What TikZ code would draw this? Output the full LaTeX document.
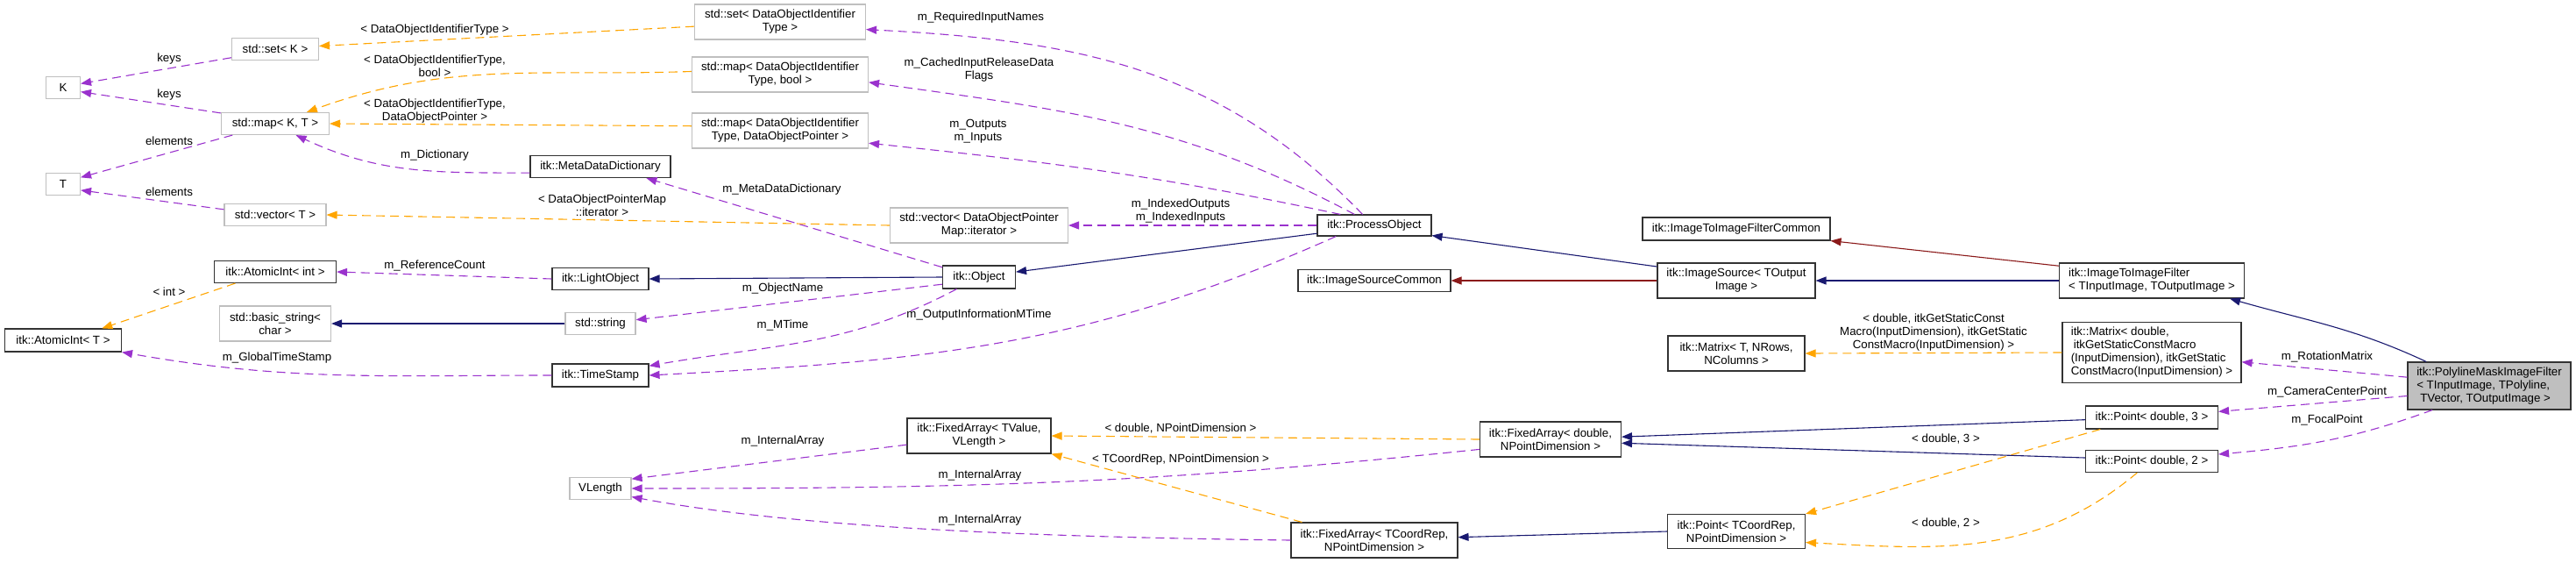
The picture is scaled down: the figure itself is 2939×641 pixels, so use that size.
\documentclass[tikz,border=0pt]{standalone}
\usepackage{fontspec}
\setmainfont{Liberation Sans}
\usepackage{xcolor}
\usetikzlibrary{arrows.meta}

\definecolor{memberc}{HTML}{9A32CD}
\definecolor{tmplc}{HTML}{FFA500}
\definecolor{inhc}{HTML}{191970}
\definecolor{protc}{HTML}{8B1A1A}
\definecolor{extc}{HTML}{BFBFBF}

\begin{document}
\begin{tikzpicture}[x=1pt, y=-1pt,
    font=\fontsize{13.3}{15}\selectfont,
    cls/.style={draw=black!80, line width=1.1pt, fill=white, align=center, inner sep=2pt},
    ext/.style={cls, draw=extc},
    focus/.style={cls, fill=extc},
    tip/.style={-{Triangle[length=12pt,width=9pt]}},
    member/.style={tip, memberc, line width=1.1pt, dash pattern=on 10pt off 6pt},
    tmpl/.style={tip, tmplc, line width=1.1pt, dash pattern=on 10pt off 6pt},
    inherit/.style={tip, inhc, line width=1.1pt},
    prot/.style={tip, protc, line width=1.1pt},
    lbl/.style={align=center, inner sep=0pt}]
    \useasboundingbox (0,0) rectangle (2939,641);

    % classes
    \node[ext, minimum width=39, minimum height=25] (k) at (72,100) {K};
    \node[ext, minimum width=39, minimum height=25] (t) at (72,210) {T};
    \node[cls, minimum width=133, minimum height=26] (atomicT) at (72,388) {itk::AtomicInt< T >};
    \node[ext, minimum width=99, minimum height=25] (setK) at (314,56) {std::set< K >};
    \node[ext, minimum width=123, minimum height=25] (mapKT) at (314,141) {std::map< K, T >};
    \node[ext, minimum width=116, minimum height=25] (vecT) at (314,245) {std::vector< T >};
    \node[cls, minimum width=139, minimum height=25] (atomicInt) at (314,310) {itk::AtomicInt< int >};
    \node[ext, minimum width=127, minimum height=40] (basicStr) at (314,369) {std::basic\_string<\\char >};
    \node[cls, minimum width=160, minimum height=25] (metaDict) at (685,190) {itk::MetaDataDictionary};
    \node[cls, minimum width=110, minimum height=25] (lightObj) at (685,318) {itk::LightObject};
    \node[ext, minimum width=80, minimum height=25] (stdString) at (685,369) {std::string};
    \node[cls, minimum width=110, minimum height=26] (timeStamp) at (685,428) {itk::TimeStamp};
    \node[ext, minimum width=70, minimum height=25] (vlength) at (685,557) {VLength};
    \node[ext, minimum width=195, minimum height=40] (setDOIT) at (890,25) {std::set< DataObjectIdentifier\\Type >};
    \node[ext, minimum width=201, minimum height=40] (mapBool) at (890,85) {std::map< DataObjectIdentifier\\Type, bool >};
    \node[ext, minimum width=201, minimum height=40] (mapPtr) at (890,149) {std::map< DataObjectIdentifier\\Type, DataObjectPointer >};
    \node[ext, minimum width=203, minimum height=40] (vecIter) at (1117,257) {std::vector< DataObjectPointer\\Map::iterator >};
    \node[cls, minimum width=83, minimum height=26] (object) at (1117,316) {itk::Object};
    \node[cls, minimum width=164, minimum height=40] (faValue) at (1117,497) {itk::FixedArray< TValue,\\VLength >};
    \node[cls, minimum width=130, minimum height=24] (procObj) at (1568,257) {itk::ProcessObject};
    \node[cls, minimum width=174, minimum height=25] (srcCommon) at (1568,320) {itk::ImageSourceCommon};
    \node[cls, minimum width=190, minimum height=40] (faCoord) at (1568,616) {itk::FixedArray< TCoordRep,\\NPointDimension >};
    \node[cls, minimum width=161, minimum height=40] (faDouble) at (1769,501) {itk::FixedArray< double,\\NPointDimension >};
    \node[cls, minimum width=214, minimum height=26] (filterCommon) at (1981,261) {itk::ImageToImageFilterCommon};
    \node[cls, minimum width=180, minimum height=40] (imgSource) at (1981,320) {itk::ImageSource< TOutput\\Image >};
    \node[cls, minimum width=156, minimum height=40] (matrixT) at (1981,403) {itk::Matrix< T, NRows,\\NColumns >};
    \node[cls, minimum width=157, minimum height=39] (pointT) at (1981,606) {itk::Point< TCoordRep,\\NPointDimension >};
    \node[cls, align=left, minimum width=211, minimum height=40] (imgFilter) at (2455,320) {itk::ImageToImageFilter\\< TInputImage, TOutputImage >};
    \node[cls, align=left, minimum width=204, minimum height=69] (matrixD) at (2455,402) {itk::Matrix< double,\\\hspace{3pt}itkGetStaticConstMacro\\(InputDimension), itkGetStatic\\ConstMacro(InputDimension) >};
    \node[cls, minimum width=151, minimum height=26] (point3) at (2455,476) {itk::Point< double, 3 >};
    \node[cls, minimum width=151, minimum height=25] (point2) at (2455,526) {itk::Point< double, 2 >};
    \node[focus, align=left, minimum width=186, minimum height=54] (polyline) at (2840,440) {itk::PolylineMaskImageFilter\\< TInputImage, TPolyline,\\\hspace{4pt}TVector, TOutputImage >};

    % members
    \draw[member] (setK.191) -- (k.13);
    \draw[member] (mapKT.169) -- (k.347);
    \draw[member] (mapKT.195) -- (t.21);
    \draw[member] (vecT.174) -- (t.341);
    \draw[member] (metaDict.185) to[out=180,in=-25] (mapKT.-29);
    \draw[member] (lightObj.west) -- (atomicInt.east);
    \draw[member] (timeStamp.west) to[out=180,in=-10] (atomicT.south east);
    \draw[member] (object.165) -- (metaDict.-14);
    \draw[member] (object.191) -- (stdString.6);
    \draw[member] (object.208) to[out=208,in=10] (timeStamp.11);
    \draw[member] (procObj.196) to[out=204,in=3] (timeStamp.east);
    \draw[member] (procObj.west) -- (vecIter.east);
    \draw[member] (procObj.137) to[out=134,in=-3] (setDOIT.-5);
    \draw[member] (procObj.151) to[out=152,in=-8] (mapBool.-5);
    \draw[member] (procObj.162) to[out=168,in=-6] (mapPtr.-8);
    \draw[member] (polyline.174) -- (matrixD.-6);
    \draw[member] (polyline.187) -- (point3.5);
    \draw[member] (polyline.203) to[out=200,in=5] (point2.6);
    \draw[member] (faValue.187) -- (vlength.17);
    \draw[member] (faDouble.188) to[out=186,in=0] (vlength.east);
    \draw[member] (faCoord.west) .. controls (1150,612) and (900,600) .. (vlength.-15);

    % templates
    \draw[tmpl] (setDOIT.183) -- (setK.4);
    \draw[tmpl] (mapBool.178) to[out=182,in=20] (mapKT.20);
    \draw[tmpl] (mapPtr.177) -- (mapKT.east);
    \draw[tmpl] (vecIter.west) -- (vecT.east);
    \draw[tmpl] (atomicInt.196) -- (atomicT.17);
    \draw[tmpl] (matrixD.west) -- (matrixT.east);
    \draw[tmpl] (faDouble.west) -- (faValue.east);
    \draw[tmpl] (faCoord.166) -- (faValue.south east);
    \draw[tmpl] (point3.193) -- (pointT.north east);
    \draw[tmpl] (point2.218) to[out=220,in=-3] (pointT.-9);

    % inheritance
    \draw[inherit] (stdString.west) -- (basicStr.east);
    \draw[inherit] (object.west) -- (lightObj.east);
    \draw[inherit] (procObj.188) -- (object.8);
    \draw[inherit] (imgSource.170) -- (procObj.-10);
    \draw[inherit] (imgFilter.west) -- (imgSource.east);
    \draw[inherit] (polyline.159) to[out=155,in=-16] (imgFilter.-13);
    \draw[inherit] (point3.182) -- (faDouble.2);
    \draw[inherit] (point2.177) -- (faDouble.-3);
    \draw[inherit] (pointT.west) -- (faCoord.2);
    \draw[prot] (imgSource.west) -- (srcCommon.east);
    \draw[prot] (imgFilter.171) -- (filterCommon.south east);

    % labels
    \node[lbl] (lKeysA) at (193,67) {keys};
    \node[lbl] (lKeysB) at (193,108) {keys};
    \node[lbl] (lElemA) at (193,161) {elements};
    \node[lbl] (lElemB) at (193,219) {elements};
    \node[lbl] (lInt) at (193,333) {< int >};
    \node[lbl] (lSet) at (496,34) {< DataObjectIdentifierType >};
    \node[lbl] (lMapBool) at (496,75) {< DataObjectIdentifierType,\\bool >};
    \node[lbl] (lMapPtr) at (496,127) {< DataObjectIdentifierType,\\DataObjectPointer >};
    \node[lbl] (lDict) at (496,177) {m\_Dictionary};
    \node[lbl] (lRefCount) at (496,303) {m\_ReferenceCount};
    \node[lbl] (lGlobal) at (316,408) {m\_GlobalTimeStamp};
    \node[lbl] (lIter) at (687,234) {< DataObjectPointerMap\\::iterator >};
    \node[lbl] (lMeta) at (892,216) {m\_MetaDataDictionary};
    \node[lbl] (lName) at (893,329) {m\_ObjectName};
    \node[lbl] (lMTime) at (893,371) {m\_MTime};
    \node[lbl] (lOutInfo) at (1117,359) {m\_OutputInformationMTime};
    \node[lbl] (lArrA) at (893,503) {m\_InternalArray};
    \node[lbl] (lArrB) at (1118,542) {m\_InternalArray};
    \node[lbl] (lArrC) at (1118,593) {m\_InternalArray};
    \node[lbl] (lReq) at (1119,20) {m\_RequiredInputNames};
    \node[lbl] (lCached) at (1117,80) {m\_CachedInputReleaseData\\Flags};
    \node[lbl] (lInOut) at (1116,150) {m\_Outputs\\m\_Inputs};
    \node[lbl] (lIndexed) at (1347,241) {m\_IndexedOutputs\\m\_IndexedInputs};
    \node[lbl] (lFaDouble) at (1347,489) {< double, NPointDimension >};
    \node[lbl] (lFaCoord) at (1347,524) {< TCoordRep, NPointDimension >};
    \node[lbl] (lMatrix) at (2206,379) {< double, itkGetStaticConst\\Macro(InputDimension), itkGetStatic\\ConstMacro(InputDimension) >};
    \node[lbl] (lPt3) at (2220,501) {< double, 3 >};
    \node[lbl] (lPt2) at (2220,597) {< double, 2 >};
    \node[lbl] (lRot) at (2655,407) {m\_RotationMatrix};
    \node[lbl] (lCam) at (2655,447) {m\_CameraCenterPoint};
    \node[lbl] (lFocal) at (2655,479) {m\_FocalPoint};
\end{tikzpicture}
\end{document}
